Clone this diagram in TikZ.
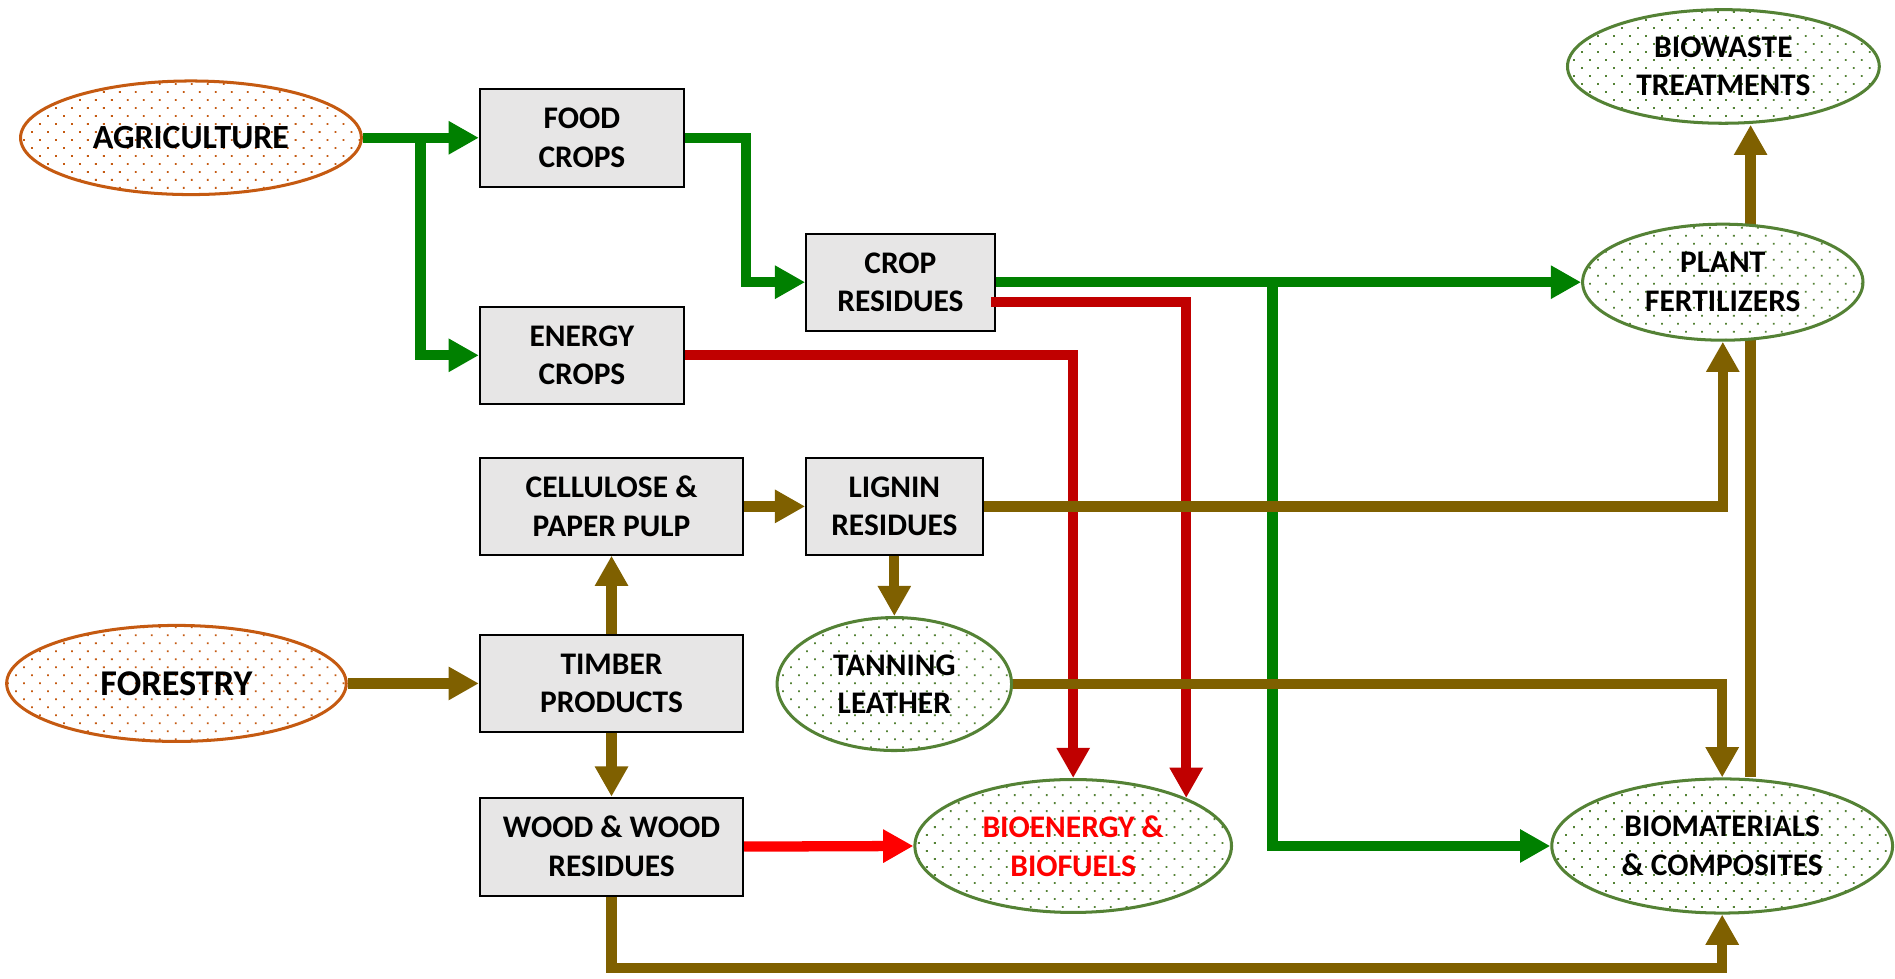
\documentclass[tikz,border=0pt]{standalone}
\usepackage{fontspec}
\setmainfont{Carlito}
\usetikzlibrary{arrows.meta,shapes.geometric,patterns.meta}
\definecolor{leaf}{RGB}{0,128,0}
\definecolor{crimson}{RGB}{192,0,0}
\definecolor{brightred}{RGB}{255,0,0}
\definecolor{bark}{RGB}{127,96,0}
\definecolor{rust}{RGB}{197,90,17}
\definecolor{moss}{RGB}{84,130,53}
\definecolor{boxgray}{RGB}{231,230,230}

\begin{document}
\begin{tikzpicture}[x=1pt,y=-1pt,
  txt/.style={font=\bfseries\fontsize{26}{32}\selectfont, align=center, text=black},
  stage/.style={txt, rectangle, draw=black, line width=1.6pt, fill=boxgray,
    inner sep=0pt, minimum height=80pt},
  dotted fill/.style={preaction={fill=white},
    pattern={Dots[distance=9.35pt,angle=45,radius=1.05pt]}, pattern color=#1},
  source/.style={txt, ellipse, draw=rust, line width=2.5pt, inner sep=0pt,
    dotted fill=rust},
  outcome/.style={txt, ellipse, draw=moss, line width=2.5pt, inner sep=0pt,
    dotted fill=moss},
  flow/.style={line width=8.5pt, line join=miter, line cap=butt,
    -{Triangle[width=26pt,length=25pt]}},
  green flow/.style={flow, draw=leaf},
  red flow/.style={flow, draw=crimson},
  bright flow/.style={flow, draw=brightred},
  brown flow/.style={flow, draw=bark},
]
\useasboundingbox (0,0) rectangle (1568,810);

% raw material sources
\node[source, minimum width=282pt, minimum height=94pt,
  font=\bfseries\fontsize{28}{34}\selectfont] (agri) at (158,114) {AGRICULTURE};
\node[source, minimum width=281pt, minimum height=96pt,
  font=\bfseries\fontsize{30}{36}\selectfont] (forest) at (146,565.5) {FORESTRY};

% intermediate products
\node[stage, minimum width=169pt, minimum height=81pt] (food) at (481.5,114) {FOOD\\CROPS};
\node[stage, minimum width=169pt] (energy) at (481.5,294) {ENERGY\\CROPS};
\node[stage, minimum width=156pt] (cropres) at (745,233.5) {CROP\\RESIDUES};
\node[stage, minimum width=218pt] (cell) at (506,419) {CELLULOSE \&\\PAPER PULP};
\node[stage, minimum width=146pt] (lignin) at (740,419) {LIGNIN\\RESIDUES};
\node[stage, minimum width=218pt] (timber) at (506,565.5) {TIMBER\\PRODUCTS};
\node[stage, minimum width=218pt, minimum height=81pt] (wood) at (506,700.5) {WOOD \& WOOD\\RESIDUES};

% end uses
\node[outcome, minimum width=194pt, minimum height=110pt] (tanning) at (740,566) {TANNING\\LEATHER};
\node[outcome, minimum width=262pt, minimum height=110pt, text=brightred] (bioen) at (888,700) {BIOENERGY \&\\BIOFUELS};
\node[outcome, minimum width=282pt, minimum height=111pt] (biomat) at (1425,700) {BIOMATERIALS\\\& COMPOSITES};
\node[outcome, minimum width=258pt, minimum height=94pt] (biowaste) at (1426,55) {BIOWASTE\\TREATMENTS};

% this riser passes behind the fertilizer ellipse
\draw[brown flow] ([xshift=23.5pt]biomat.north) -- ([xshift=22.5pt]biowaste.south);

\node[outcome, minimum width=232pt, minimum height=96pt] (plant) at (1425.5,233.5) {PLANT\\FERTILIZERS};

% branch points and bends
\coordinate (agsplit) at (348,114);
\coordinate (foodbend) at (617,114);
\coordinate (crsplit) at (1053,233.5);
\coordinate (woodbend) at (506,801);

% agricultural flows
\draw[green flow] (agri.east) -- (food.west);
\draw[green flow] (agsplit) |- (energy.west);
\draw[green flow] (food.east) -- (foodbend) |- (cropres.west);
\draw[green flow] (cropres.east) -- (plant.west);
\draw[green flow] (crsplit) |- (biomat.west);

% energy flows
\draw[red flow] (energy.east) -| (bioen.north);
\draw[red flow] ([shift={(-4pt,-16.5pt)}]cropres.east) -| (bioen.north east);
\draw[bright flow] (wood.east) -- (bioen.west);

% forestry flows
\draw[brown flow] (forest.east) -- (timber.west);
\draw[brown flow] (timber.north) -- (cell.south);
\draw[brown flow] (timber.south) -- (wood.north);
\draw[brown flow] (cell.east) -- (lignin.west);
\draw[brown flow] (lignin.south) -- (tanning.north);
\draw[brown flow] (lignin.east) -| (plant.south);
\draw[brown flow] (tanning.east) -| (biomat.north);
\draw[brown flow] (wood.south) -- (woodbend) -| (biomat.south);
\end{tikzpicture}
\end{document}
